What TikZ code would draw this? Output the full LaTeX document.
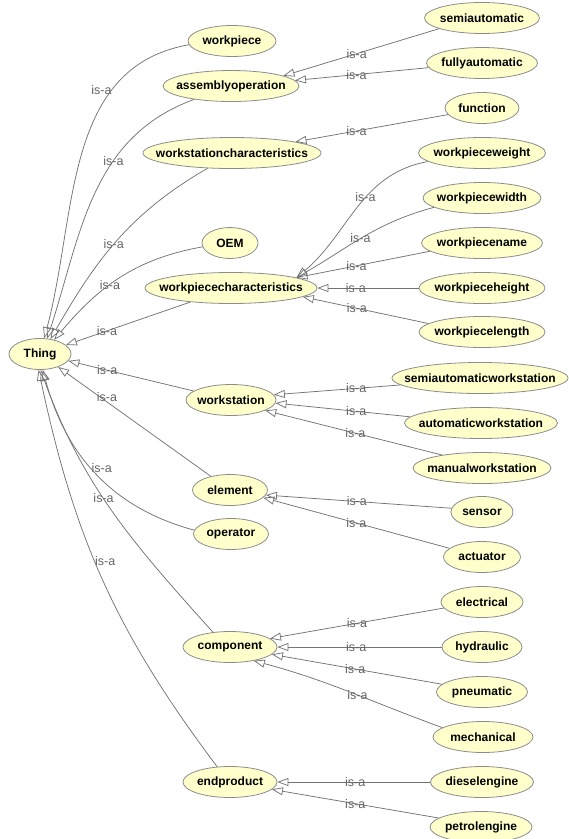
\documentclass[tikz,border=0pt]{standalone}
\usepackage{fontspec}
\setmainfont{Liberation Sans}
\usetikzlibrary{shapes.geometric,arrows.meta}

\definecolor{clsfill}{RGB}{255,255,204}
\definecolor{clsline}{RGB}{140,140,140}
\definecolor{edgeline}{RGB}{115,115,115}
\definecolor{isatext}{RGB}{100,100,100}

\newcommand{\cname}[1]{\makebox[0pt]{#1}}

\begin{document}
\begin{tikzpicture}[x=1pt,y=1pt,
  cls/.style={ellipse,draw=clsline,line width=0.8pt,fill=clsfill,minimum height=31,inner sep=0pt,font=\fontsize{12}{14}\selectfont\bfseries},
  isa/.style={font=\fontsize{12.5}{14}\selectfont,text=isatext,inner sep=0pt},
  sub/.style={draw=edgeline,line width=0.75pt,-{Triangle[open,length=11pt,width=8pt]}}]
\useasboundingbox (0,0) rectangle (569,-839);
% root
\node[cls,minimum width=62] (thing) at (40,-354) {\cname{Thing}};
% direct subclasses of Thing
\node[cls,minimum width=88] (workpiece) at (232,-41) {\cname{workpiece}};
\node[cls,minimum width=136] (assemblyoperation) at (231,-86) {\cname{assemblyoperation}};
\node[cls,minimum width=178] (workstationcharacteristics) at (232,-153) {\cname{workstationcharacteristics}};
\node[cls,minimum width=56] (oem) at (230,-243) {\cname{OEM}};
\node[cls,minimum width=172] (workpiececharacteristics) at (231,-288) {\cname{workpiececharacteristics}};
\node[cls,minimum width=90] (workstation) at (231,-400) {\cname{workstation}};
\node[cls,minimum width=75] (element) at (230,-490) {\cname{element}};
\node[cls,minimum width=75] (operator) at (231,-534) {\cname{operator}};
\node[cls,minimum width=94] (component) at (230,-647) {\cname{component}};
\node[cls,minimum width=94] (endproduct) at (230,-782) {\cname{endproduct}};
% leaves
\node[cls,minimum width=115] (semiautomatic) at (482,-18) {\cname{semiautomatic}};
\node[cls,minimum width=111] (fullyautomatic) at (482,-63) {\cname{fullyautomatic}};
\node[cls,minimum width=74] (function) at (482,-108) {\cname{function}};
\node[cls,minimum width=127] (workpieceweight) at (482,-153) {\cname{workpieceweight}};
\node[cls,minimum width=118] (workpiecewidth) at (482,-198) {\cname{workpiecewidth}};
\node[cls,minimum width=121] (workpiecename) at (482,-243) {\cname{workpiecename}};
\node[cls,minimum width=126] (workpieceheight) at (482,-288) {\cname{workpieceheight}};
\node[cls,minimum width=126] (workpiecelength) at (482,-332) {\cname{workpiecelength}};
\node[cls,minimum width=176] (semiautomaticworkstation) at (480,-378) {\cname{semiautomaticworkstation}};
\node[cls,minimum width=153] (automaticworkstation) at (481,-423) {\cname{automaticworkstation}};
\node[cls,minimum width=138] (manualworkstation) at (482,-468) {\cname{manualworkstation}};
\node[cls,minimum width=62] (sensor) at (482,-512) {\cname{sensor}};
\node[cls,minimum width=77] (actuator) at (482,-557) {\cname{actuator}};
\node[cls,minimum width=82] (electrical) at (482,-602) {\cname{electrical}};
\node[cls,minimum width=80] (hydraulic) at (482,-647) {\cname{hydraulic}};
\node[cls,minimum width=91] (pneumatic) at (482,-692) {\cname{pneumatic}};
\node[cls,minimum width=100] (mechanical) at (483,-737) {\cname{mechanical}};
\node[cls,minimum width=103] (dieselengine) at (482,-782) {\cname{dieselengine}};
\node[cls,minimum width=102] (petrolengine) at (481,-827) {\cname{petrolengine}};
% is-a edges to Thing
\draw[sub] (workpiece.185) to[out=190,in=75] node[isa,pos=0.28,anchor=east] {is-a} (thing.75);
\draw[sub] (assemblyoperation.200) to[out=200,in=72] node[isa,pos=0.36] {is-a} (thing.65);
\draw[sub] (workstationcharacteristics.212) to[out=210,in=60] node[isa,pos=0.52] {is-a} (thing.55);
\draw[sub] (oem.188) to[out=190,in=50] node[isa,pos=0.57] {is-a} (thing.45);
\draw[sub] (workpiececharacteristics) -- node[isa,pos=0.67] {is-a} (thing);
\draw[sub] (workstation) -- node[isa,pos=0.69] {is-a} (thing);
\draw[sub] (element) -- node[isa,pos=0.68,above] {is-a} (thing);
\draw[sub] (operator.174) to[out=165,in=-75] node[isa,pos=0.53,anchor=west] {is-a} (thing.-80);
\draw[sub] (component.139) to[out=132,in=-70] node[isa,pos=0.55] {is-a} (thing.-88);
\draw[sub] (endproduct.130) to[out=127,in=-78] node[isa,pos=0.55,anchor=west] {is-a} (thing.-95);
% is-a edges between classes
\draw[sub] (semiautomatic.194) -- node[isa,pos=0.53] {is-a} (assemblyoperation.11);
\draw[sub] (fullyautomatic.185) -- node[isa,pos=0.54] {is-a} (assemblyoperation.5);
\draw[sub] (function.191) -- node[isa,pos=0.6] {is-a} (workstationcharacteristics.10);
\draw[sub] (workpieceweight.189) to[out=190,in=40] node[isa,pos=0.42] {is-a} (workpiececharacteristics.9);
\draw[sub] (workpiecewidth.191) to[out=195,in=30] node[isa,pos=0.52] {is-a} (workpiececharacteristics.9);
\draw[sub] (workpiecename.189) -- node[isa,pos=0.55] {is-a} (workpiececharacteristics.9);
\draw[sub] (workpieceheight) -- node[isa,pos=0.62] {is-a} (workpiececharacteristics);
\draw[sub] (workpiecelength.171) -- node[isa,pos=0.57] {is-a} (workpiececharacteristics.-7);
\draw[sub] (semiautomaticworkstation.185) -- node[isa,pos=0.35] {is-a} (workstation.7);
\draw[sub] (automaticworkstation.175) -- node[isa,pos=0.4] {is-a} (workstation.-4);
\draw[sub] (manualworkstation.162) -- node[isa,pos=0.49] {is-a} (workstation.-17);
\draw[sub] (sensor.173) -- node[isa,pos=0.51] {is-a} (element.-8);
\draw[sub] (actuator.165) -- node[isa,pos=0.5] {is-a} (element.-13);
\draw[sub] (electrical.189) -- node[isa,pos=0.5] {is-a} (component.12);
\draw[sub] (hydraulic) -- node[isa,pos=0.52] {is-a} (component);
\draw[sub] (pneumatic.169) -- node[isa,pos=0.51] {is-a} (component.-10);
\draw[sub] (mechanical.167) to[out=160,in=-15] node[isa,pos=0.45] {is-a} (component.-30);
\draw[sub] (dieselengine) -- node[isa,pos=0.49] {is-a} (endproduct);
\draw[sub] (petrolengine.168) -- node[isa,pos=0.5] {is-a} (endproduct.-10);
\end{tikzpicture}
\end{document}
